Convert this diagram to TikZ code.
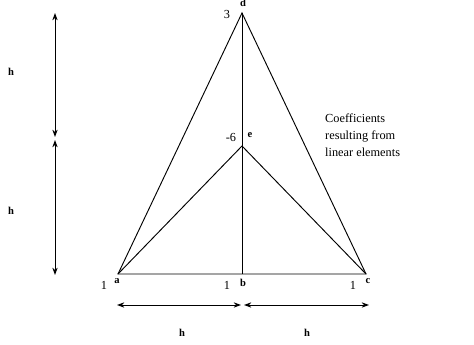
\documentclass[tikz,border=0pt]{standalone}
\usepackage{fontspec}
\setmainfont{Liberation Serif}
\usetikzlibrary{arrows.meta}
\tikzset{
  edge/.style={line width=0.8pt, black},
  dimarrow/.style={{Stealth[length=2.2mm,width=1.6mm]}-{Stealth[length=2.2mm,width=1.6mm]}, line width=0.8pt},
  vtx/.style={font=\bfseries\small, inner sep=1pt},
  coef/.style={font=\fontsize{10.5}{12}\selectfont, inner sep=1pt},
  dimlbl/.style={font=\bfseries\small, inner sep=1pt},
  note/.style={font=\fontsize{10.5}{14.5}\selectfont, align=left, inner sep=0pt}
}
\begin{document}
\begin{tikzpicture}[x=0.03cm, y=-0.03cm]
\useasboundingbox (0,0) rectangle (474,345);
% ---- element corners ----
\coordinate (a) at (118,274);
\coordinate (b) at (242,274);
\coordinate (c) at (366,274);
\coordinate (d) at (242,13);
\coordinate (e) at (242,146);
% ---- triangles ----
\draw[edge] (a) -- (d) -- (c) -- cycle;
\draw[edge] (b) -- (d);
\draw[edge] (a) -- (e) -- (c);
% ---- vertex names and coefficients ----
\node[vtx] (la) at (117,281) {a};
\node[vtx] (lb) at (243,283) {b};
\node[vtx] (lc) at (368,281) {c};
\node[vtx] (ld) at (243,3) {d};
\node[vtx] (le) at (250,135) {e};
\node[coef] (ca) at (104,285) {1};
\node[coef] (cb) at (227,285) {1};
\node[coef] (cc) at (353,285) {1};
\node[coef] (cd) at (227,14) {3};
\node[coef] (ce) at (231,137) {-6};
% ---- dimensions ----
\coordinate (v1) at (55,13);
\coordinate (v2) at (55,137);
\coordinate (v3) at (55,140);
\coordinate (v4) at (55,275);
\coordinate (h1) at (117,305);
\coordinate (h2) at (241,305);
\coordinate (h3) at (244,305);
\coordinate (h4) at (369,305);
\draw[dimarrow] (v1) -- (v2);
\draw[dimarrow] (v3) -- (v4);
\draw[dimarrow] (h1) -- (h2);
\draw[dimarrow] (h3) -- (h4);
\node[dimlbl] (hv1) at (11,72) {h};
\node[dimlbl] (hv2) at (11,211) {h};
\node[dimlbl] (hh1) at (182,333) {h};
\node[dimlbl] (hh2) at (307,333) {h};
% ---- note ----
\node[note, anchor=north west] (txt) at (325,114) {Coefficients\\resulting from\\linear elements};
\end{tikzpicture}
\end{document}
